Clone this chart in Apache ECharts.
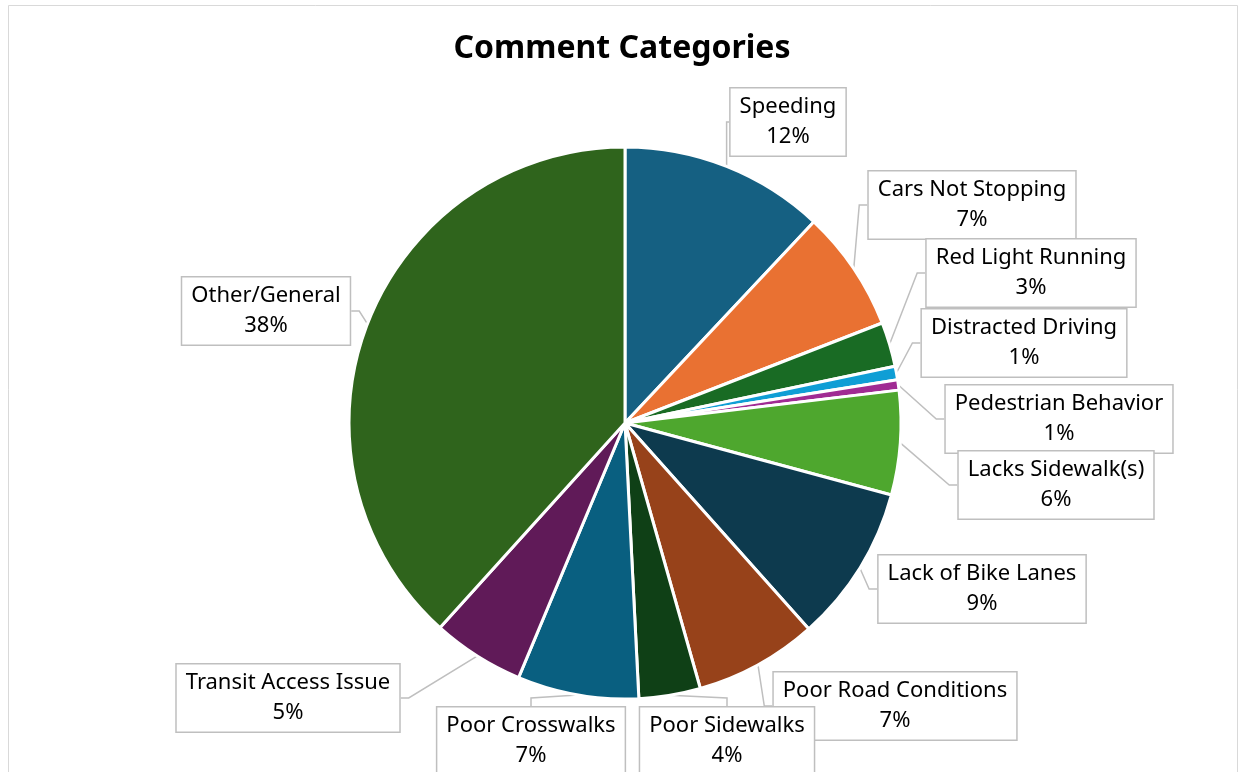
<!DOCTYPE html>
<html>
<head>
<meta charset="utf-8">
<script src="https://cdn.jsdelivr.net/npm/echarts@6/dist/echarts.min.js"></script>
<style>
  html, body { margin: 0; padding: 0; background: #fff; }
  #chart { width: 1244px; height: 772px; }
</style>
</head>
<body>
<div id="chart"></div>
<script>
// Comment categories, share of all comments (percent)
const categories = [
  'Speeding', 'Cars Not Stopping', 'Red Light Running', 'Distracted Driving',
  'Pedestrian Behavior', 'Lacks Sidewalk(s)', 'Lack of Bike Lanes',
  'Poor Road Conditions', 'Poor Sidewalks', 'Poor Crosswalks',
  'Transit Access Issue', 'Other/General'
];
const shares = [12.0, 7.1, 2.6, 0.8, 0.6, 6.1, 9.2, 7.2, 3.6, 7.1, 5.4, 38.3];

const sliceColors = [
  '#156082', '#E97132', '#196B24', '#0F9ED5', '#A02B93', '#4EA72E',
  '#0D3A4E', '#97421A', '#0F4016', '#095F80', '#601A58', '#2F641C'
];

// Callout box centres (px), one per category
const calloutCenters = [
  [788, 122], [972, 205], [1031, 273], [1024, 343], [1059, 419], [1056, 485],
  [982, 589], [895, 706], [727, 741], [531, 741], [288, 698], [266, 311]
];

const chart = echarts.init(document.getElementById('chart'), null, { renderer: 'canvas' });

const FONT = '"Noto Sans", "Liberation Sans", sans-serif';

chart.setOption({
  backgroundColor: '#ffffff',
  animation: false,
  graphic: [{
    type: 'rect',
    shape: { x: 8.5, y: 5.5, width: 1229, height: 820 },
    style: { fill: 'none', stroke: '#d9d9d9', lineWidth: 1 },
    silent: true,
    z: -10
  }],
  title: {
    text: 'Comment Categories',
    left: 'center',
    top: 28,
    textStyle: { fontFamily: FONT, fontWeight: 'bold', fontSize: 32, color: '#000' }
  },
  series: [{
    type: 'pie',
    center: [625, 423],
    radius: [0, 276],
    startAngle: 90,
    clockwise: true,
    avoidLabelOverlap: false,
    itemStyle: { borderColor: '#ffffff', borderWidth: 3 },
    label: {
      show: true,
      position: 'outside',
      fontFamily: FONT,
      fontSize: 22,
      lineHeight: 30,
      color: '#000',
      align: 'center',
      backgroundColor: '#ffffff',
      borderColor: '#bfbfbf',
      borderWidth: 1.5,
      padding: [4, 9, 3, 9],
      formatter: p => p.name + '\n' + Math.round(p.percent) + '%'
    },
    labelLine: {
      show: true,
      length: 8,
      length2: 8,
      lineStyle: { color: '#bfbfbf', width: 1.5 }
    },
    labelLayout: params => {
      const c = calloutCenters[params.dataIndex];
      return { x: c[0], y: c[1], align: 'center', verticalAlign: 'middle' };
    },
    data: categories.map((name, i) => ({
      name: name,
      value: shares[i],
      itemStyle: { color: sliceColors[i] }
    }))
  }]
});
</script>
</body>
</html>
